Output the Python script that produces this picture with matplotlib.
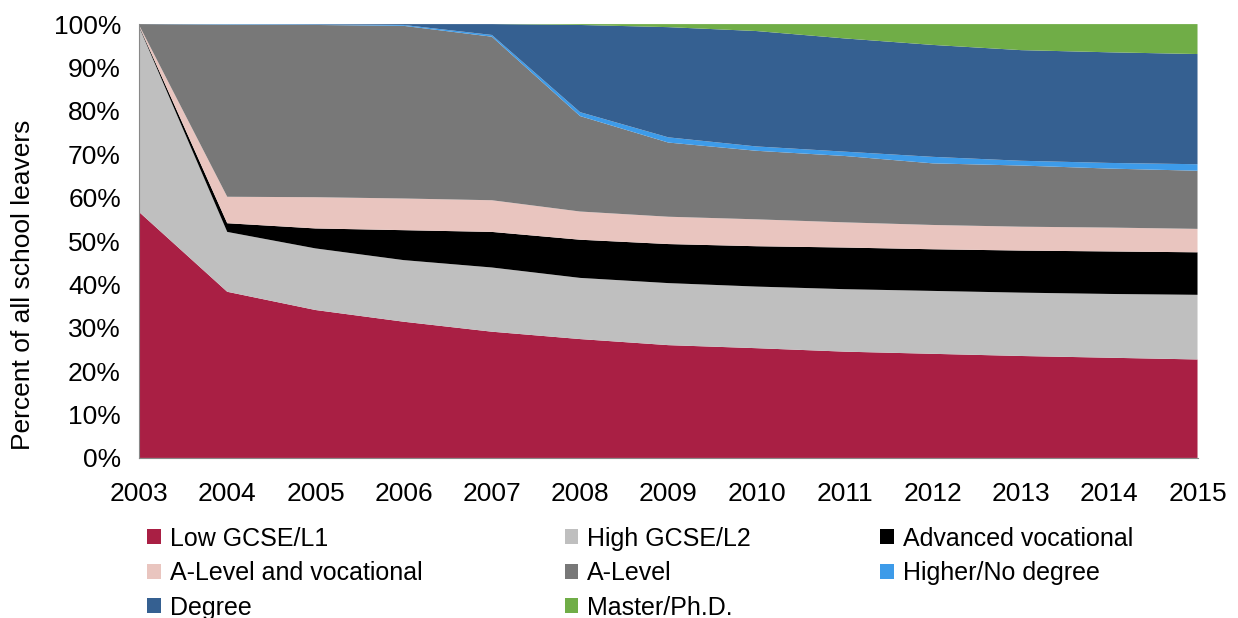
import matplotlib.pyplot as plt
from matplotlib.patches import Patch

plt.rcParams['font.family'] = ['Liberation Sans', 'DejaVu Sans']

years = list(range(2003, 2016))

# Share of school leavers by highest qualification (percent)
low_gcse = [56.7, 38.3, 34.1, 31.4, 29.1, 27.4, 26.0, 25.3, 24.5, 24.0, 23.5, 23.1, 22.7]
high_gcse = [42.7, 13.8, 14.2, 14.2, 14.8, 14.1, 14.3, 14.2, 14.4, 14.5, 14.6, 14.7, 14.9]
adv_voc = [0.2, 2.0, 4.6, 6.9, 8.2, 8.8, 9.0, 9.3, 9.6, 9.6, 9.7, 9.8, 9.8]
alevel_voc = [0.2, 6.1, 7.2, 7.3, 7.3, 6.5, 6.3, 6.2, 5.8, 5.6, 5.5, 5.5, 5.4]
alevel = [0.2, 39.7, 39.7, 39.8, 37.7, 22.0, 17.1, 15.8, 15.3, 14.2, 14.1, 13.6, 13.4]
higher_no_deg = [0.0, 0.1, 0.1, 0.2, 0.4, 0.9, 1.2, 1.0, 1.0, 1.5, 1.1, 1.3, 1.5]
degree = [0.0, 0.0, 0.1, 0.2, 2.5, 20.1, 25.4, 26.6, 26.1, 25.8, 25.5, 25.5, 25.4]
master_phd = [0.0, 0.0, 0.0, 0.0, 0.0, 0.2, 0.7, 1.6, 3.3, 4.8, 6.0, 6.5, 6.9]

labels = ["Low GCSE/L1", "High GCSE/L2", "Advanced vocational",
          "A-Level and vocational", "A-Level", "Higher/No degree",
          "Degree", "Master/Ph.D."]
colors = ["#A91F44", "#BFBFBF", "#000000", "#E9C5BF",
          "#787878", "#3D9BE9", "#356091", "#70AD47"]

fig = plt.figure(figsize=(12.38, 6.18), dpi=100)
ax = fig.add_axes([0.1123, 0.259, 0.855, 0.702])

series = [low_gcse, high_gcse, adv_voc, alevel_voc, alevel,
          higher_no_deg, degree, master_phd]
ax.stackplot(years, *series, colors=colors, labels=labels, linewidth=0)

ax.set_xlim(2003, 2015)
ax.set_ylim(0, 100)
ax.set_yticks(range(0, 101, 10))
ax.set_yticklabels([f"{v}%" for v in range(0, 101, 10)])
ax.set_xticks(years)
ax.tick_params(axis='both', labelsize=19, length=0)
ax.tick_params(axis='y', pad=13)
ax.tick_params(axis='x', pad=17)
ax.set_ylabel("Percent of all school leavers", fontsize=19)
ax.yaxis.set_label_coords(-0.098, 0.40)

for side in ['top', 'right']:
    ax.spines[side].set_visible(False)
ax.spines['left'].set_color('#888888')
ax.spines['bottom'].set_color('#888888')

# Legend laid out in three columns like the original
handles = [Patch(facecolor=c, edgecolor='none') for c in colors]
cols = [[0, 3, 6], [1, 4, 7], [2, 5]]
xs = [0.119, 0.456, 0.711]
for idx, x in zip(cols, xs):
    fig.legend([handles[i] for i in idx], [labels[i] for i in idx],
               loc='upper left', bbox_to_anchor=(x, 0.148),
               frameon=False, fontsize=18, handlelength=0.55, handleheight=0.55,
               handletextpad=0.35, labelspacing=0.42, borderaxespad=0,
               borderpad=0)

fig.savefig("out.png", dpi=100)
